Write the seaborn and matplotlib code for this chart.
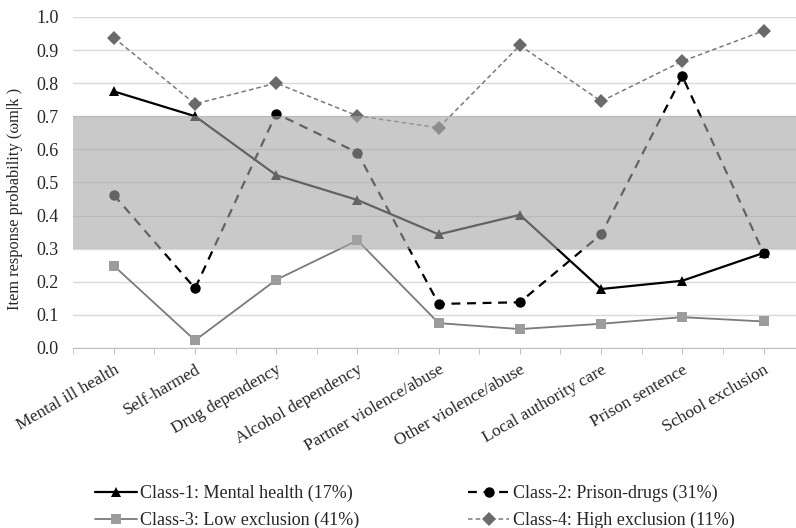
import numpy as np
import pandas as pd
import seaborn as sns
import matplotlib.pyplot as plt

items = ['Mental ill health', 'Self-harmed', 'Drug dependency', 'Alcohol dependency',
         'Partner violence/abuse', 'Other violence/abuse', 'Local authority care',
         'Prison sentence', 'School exclusion']
class1 = [0.775, 0.700, 0.522, 0.447, 0.343, 0.402, 0.178, 0.203, 0.287]
class2 = [0.462, 0.180, 0.708, 0.590, 0.133, 0.138, 0.343, 0.821, 0.287]
class3 = [0.248, 0.023, 0.206, 0.325, 0.075, 0.057, 0.073, 0.093, 0.080]
class4 = [0.937, 0.737, 0.800, 0.701, 0.665, 0.914, 0.745, 0.866, 0.958]
names = ['Class-1: Mental health (17%)', 'Class-2: Prison-drugs (31%)',
         'Class-3: Low exclusion (41%)', 'Class-4: High exclusion (11%)']
band = (0.3, 0.7)

sns.set_style('white')
plt.rcParams['font.family'] = ['Liberation Serif', 'DejaVu Serif']

pos = np.arange(len(items))
df = pd.DataFrame({'pos': np.tile(pos, 4),
                   'value': class1 + class2 + class3 + class4,
                   'cls': np.repeat(names, len(items))})

# per-class look: line colour, marker, marker colour, line width, dashes, marker size
looks = {
    names[0]: dict(color='black', marker='^', mfc='black', lw=1.6, dashes=None, ms=7.5),
    names[1]: dict(color='black', marker='o', mfc='black', lw=1.6, dashes=(4, 3), ms=7.5),
    names[2]: dict(color='#7a7a7a', marker='s', mfc='#9c9c9c', lw=1.3, dashes=None, ms=7.5),
    names[3]: dict(color='#7a7a7a', marker='D', mfc='#6a6a6a', lw=1.1, dashes=(3, 2), ms=7),
}

fig = plt.figure(figsize=(7.96, 5.28), dpi=100)
ax = fig.add_axes([0.092, 0.341, 0.908, 0.627])

for name in names:
    lk = looks[name]
    sub = df[df['cls'] == name]
    sns.lineplot(x='pos', y='value', data=sub, ax=ax, color=lk['color'], lw=lk['lw'],
                 marker=lk['marker'], markersize=lk['ms'], markerfacecolor=lk['mfc'],
                 markeredgecolor=lk['mfc'], markeredgewidth=0, label=name, zorder=3)
    if lk['dashes'] is not None:
        ax.lines[-1].set_dashes(lk['dashes'])

# shaded band drawn over the lines
ax.axhspan(band[0], band[1], color='#a6a6a6', alpha=0.6, lw=0, zorder=4)

ax.set_xlim(-0.5, 8.4)
ax.set_ylim(0, 1.0)
yt = np.arange(0, 1.01, 0.1)
ax.set_yticks(yt)
ax.set_yticklabels([f'{v:.1f}' for v in yt], fontsize=13)
ax.yaxis.grid(True, color='#d9d9d9', lw=1)
ax.set_axisbelow(True)
ax.set_xticks(pos)
ax.set_xticks(np.arange(-0.5, 8.5, 1), minor=True)
ax.set_xticklabels(items, rotation=30, ha='right', rotation_mode='anchor', fontsize=12.5)
ax.tick_params(axis='x', which='both', length=4, color='#bfbfbf', direction='out',
               bottom=True, pad=6)
ax.tick_params(axis='y', length=0, pad=10.5)
for s in ['top', 'right', 'left']:
    ax.spines[s].set_visible(False)
ax.spines['bottom'].set_color('#bfbfbf')
ax.set_xlabel('')
ax.set_ylabel('Item response probability (ωm|k )', fontsize=11.8)
ax.yaxis.set_label_coords(-0.07, 0.45)

handles, labels = ax.get_legend_handles_labels()
ax.get_legend().remove()
order = [0, 2, 1, 3]
fig.legend([handles[i] for i in order], [labels[i] for i in order], ncol=2,
           loc='lower left', bbox_to_anchor=(0.099, -0.033), frameon=False, fontsize=13,
           handlelength=2.3, handletextpad=0.2, columnspacing=6.0, labelspacing=0.55)

fig.savefig('out.png', dpi=100)
